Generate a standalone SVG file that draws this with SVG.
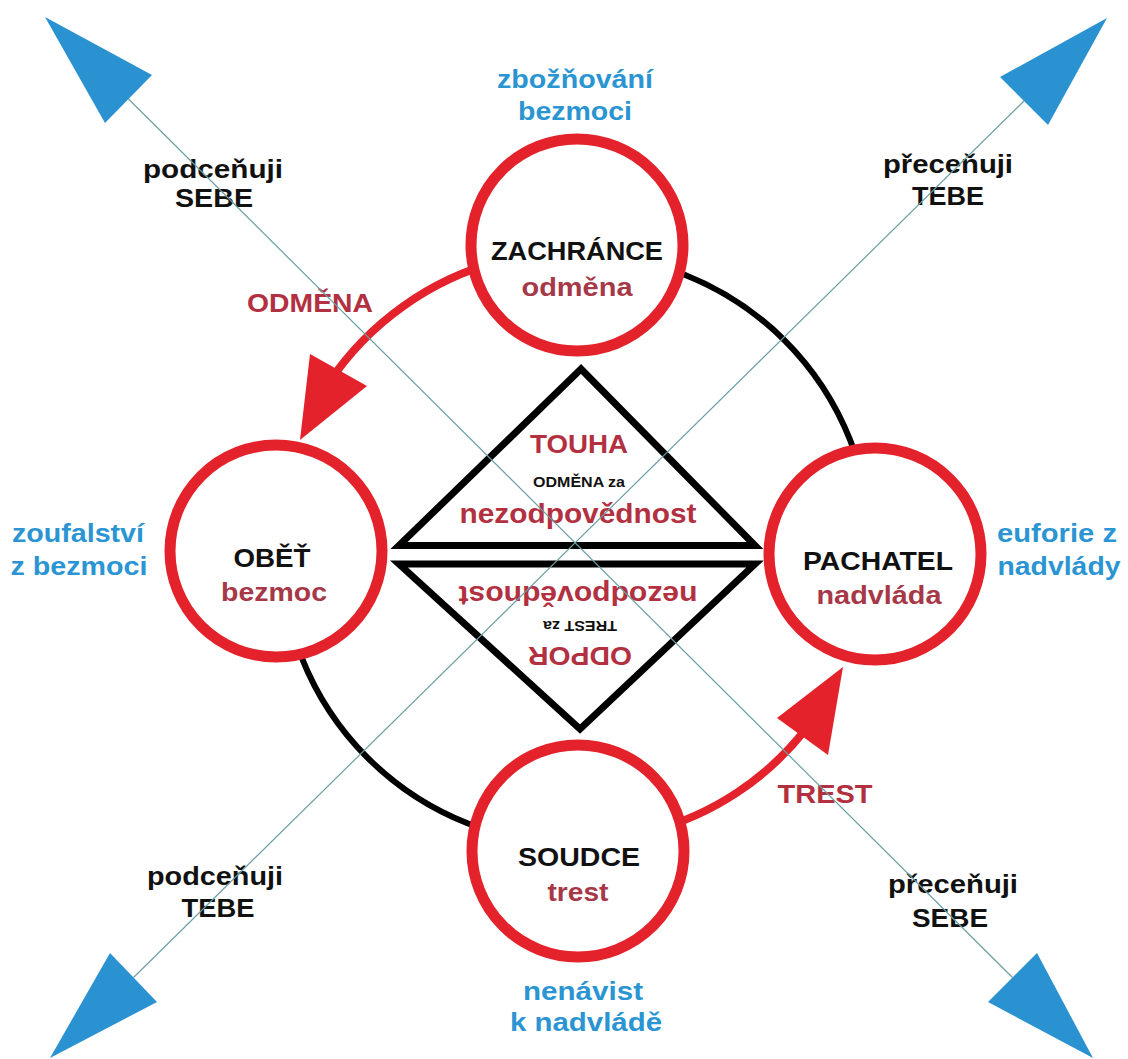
<svg xmlns="http://www.w3.org/2000/svg" width="1128" height="1059" viewBox="0 0 1128 1059">
<style>
.t{font-family:"Liberation Sans",Arial,sans-serif;font-weight:bold;font-size:26px;text-anchor:middle}
.blk{fill:#111}
.red{fill:#b2303f}
.dred{fill:#a63848}
.blue{fill:#2a95d2}
.ring{fill:#fff;stroke:#e3222b;stroke-width:11}
.arc{fill:none;stroke:#000;stroke-width:6}
.rarr{fill:none;stroke:#e3222b;stroke-width:8}
.head{fill:#e3222b}
.axis{stroke:#6a9fa3;stroke-width:1.2}
.bhead{fill:#2b92d2}
.tri{fill:none;stroke:#000;stroke-width:7}
</style>
<rect width="1128" height="1059" fill="#fff"/>
<g id="connectors">
<path class="arc" d="M 576 254 A 295 295 0 0 1 871 549"/>
<path class="arc" d="M 281 549 A 295 295 0 0 0 576 844"/>
<path class="rarr" d="M 498.9 261.2 A 298 298 0 0 0 328.9 382.4"/>
<polygon class="head" points="300,440 310,354 367,386"/>
<path class="rarr" d="M 651.6 831 A 292 292 0 0 0 806.1 728.8"/>
<polygon class="head" points="843,667 777,718 828,755"/>
</g>
<g id="center-triangles">
<polygon class="tri" points="581,369 399,545.5 755,545.5"/>
<polygon class="tri" points="399,564 755,564 580,729"/>
<text class="t red" x="579" y="453" textLength="98" lengthAdjust="spacingAndGlyphs">TOUHA</text>
<text class="t blk" x="579" y="487" style="font-size:14px" textLength="92" lengthAdjust="spacingAndGlyphs">ODMĚNA za</text>
<text class="t red" x="578" y="523" style="font-size:27px" textLength="237" lengthAdjust="spacingAndGlyphs">nezodpovědnost</text>
<text class="t red" x="578" y="586" style="font-size:27px" textLength="239" lengthAdjust="spacingAndGlyphs" transform="rotate(180 578 586)">nezodpovědnost</text>
<text class="t blk" x="580" y="621" style="font-size:14px" textLength="74" lengthAdjust="spacingAndGlyphs" transform="rotate(180 580 621)">TREST za</text>
<text class="t red" x="580" y="647" textLength="104" lengthAdjust="spacingAndGlyphs" transform="rotate(180 580 647)">ODPOR</text>
</g>
<g id="node-zachrance">
<circle class="ring" cx="577" cy="245" r="106"/>
<text class="t blk" x="577" y="260" textLength="172" lengthAdjust="spacingAndGlyphs">ZACHRÁNCE</text>
<text class="t dred" x="577" y="296" textLength="111" lengthAdjust="spacingAndGlyphs">odměna</text>
</g>
<g id="node-obet">
<circle class="ring" cx="276" cy="551" r="106"/>
<text class="t blk" x="272" y="567" textLength="77" lengthAdjust="spacingAndGlyphs">OBĚŤ</text>
<text class="t dred" x="274" y="601" textLength="106" lengthAdjust="spacingAndGlyphs">bezmoc</text>
</g>
<g id="node-pachatel">
<circle class="ring" cx="875" cy="554" r="106"/>
<text class="t blk" x="878" y="570" textLength="150" lengthAdjust="spacingAndGlyphs">PACHATEL</text>
<text class="t dred" x="879" y="604" textLength="125" lengthAdjust="spacingAndGlyphs">nadvláda</text>
</g>
<g id="node-soudce">
<circle class="ring" cx="578" cy="851" r="106"/>
<text class="t blk" x="579" y="866" textLength="122" lengthAdjust="spacingAndGlyphs">SOUDCE</text>
<text class="t dred" x="578" y="901" textLength="61" lengthAdjust="spacingAndGlyphs">trest</text>
</g>
<g id="arrow-labels">
<text class="t red" x="310" y="312" textLength="126" lengthAdjust="spacingAndGlyphs">ODMĚNA</text>
<text class="t red" x="825" y="803" textLength="95" lengthAdjust="spacingAndGlyphs">TREST</text>
</g>
<g id="emotion-labels">
<text class="t blue" x="575" y="88" textLength="156" lengthAdjust="spacingAndGlyphs">zbožňování</text>
<text class="t blue" x="575" y="120" textLength="114" lengthAdjust="spacingAndGlyphs">bezmoci</text>
<text class="t blue" x="1057" y="542" textLength="120" lengthAdjust="spacingAndGlyphs">euforie z</text>
<text class="t blue" x="1059" y="575" textLength="123" lengthAdjust="spacingAndGlyphs">nadvlády</text>
<text class="t blue" x="78" y="542" textLength="132" lengthAdjust="spacingAndGlyphs">zoufalství</text>
<text class="t blue" x="79" y="575" textLength="137" lengthAdjust="spacingAndGlyphs">z bezmoci</text>
<text class="t blue" x="583" y="1000" textLength="120" lengthAdjust="spacingAndGlyphs">nenávist</text>
<text class="t blue" x="586" y="1031" textLength="152" lengthAdjust="spacingAndGlyphs">k nadvládě</text>
</g>
<g id="axis-labels">
<text class="t blk" x="213" y="178" textLength="140" lengthAdjust="spacingAndGlyphs">podceňuji</text>
<text class="t blk" x="214" y="207" textLength="78" lengthAdjust="spacingAndGlyphs">SEBE</text>
<text class="t blk" x="948" y="173" textLength="130" lengthAdjust="spacingAndGlyphs">přeceňuji</text>
<text class="t blk" x="948" y="205" textLength="72" lengthAdjust="spacingAndGlyphs">TEBE</text>
<text class="t blk" x="215" y="885" textLength="136" lengthAdjust="spacingAndGlyphs">podceňuji</text>
<text class="t blk" x="218" y="917" textLength="73" lengthAdjust="spacingAndGlyphs">TEBE</text>
<text class="t blk" x="953" y="893" textLength="130" lengthAdjust="spacingAndGlyphs">přeceňuji</text>
<text class="t blk" x="950" y="927" textLength="76" lengthAdjust="spacingAndGlyphs">SEBE</text>
</g>
<g id="axes">
<line class="axis" x1="128.5" y1="99" x2="1012.5" y2="977.5"/>
<line class="axis" x1="1024" y1="101" x2="133.5" y2="977.5"/>
<polygon class="bhead" points="45,17 152,75 105,123"/>
<polygon class="bhead" points="1107,18 1000,77 1048,125"/>
<polygon class="bhead" points="50,1058 110,953 157,1002"/>
<polygon class="bhead" points="1093,1058 988,1002 1037,953"/>
</g>
</svg>
